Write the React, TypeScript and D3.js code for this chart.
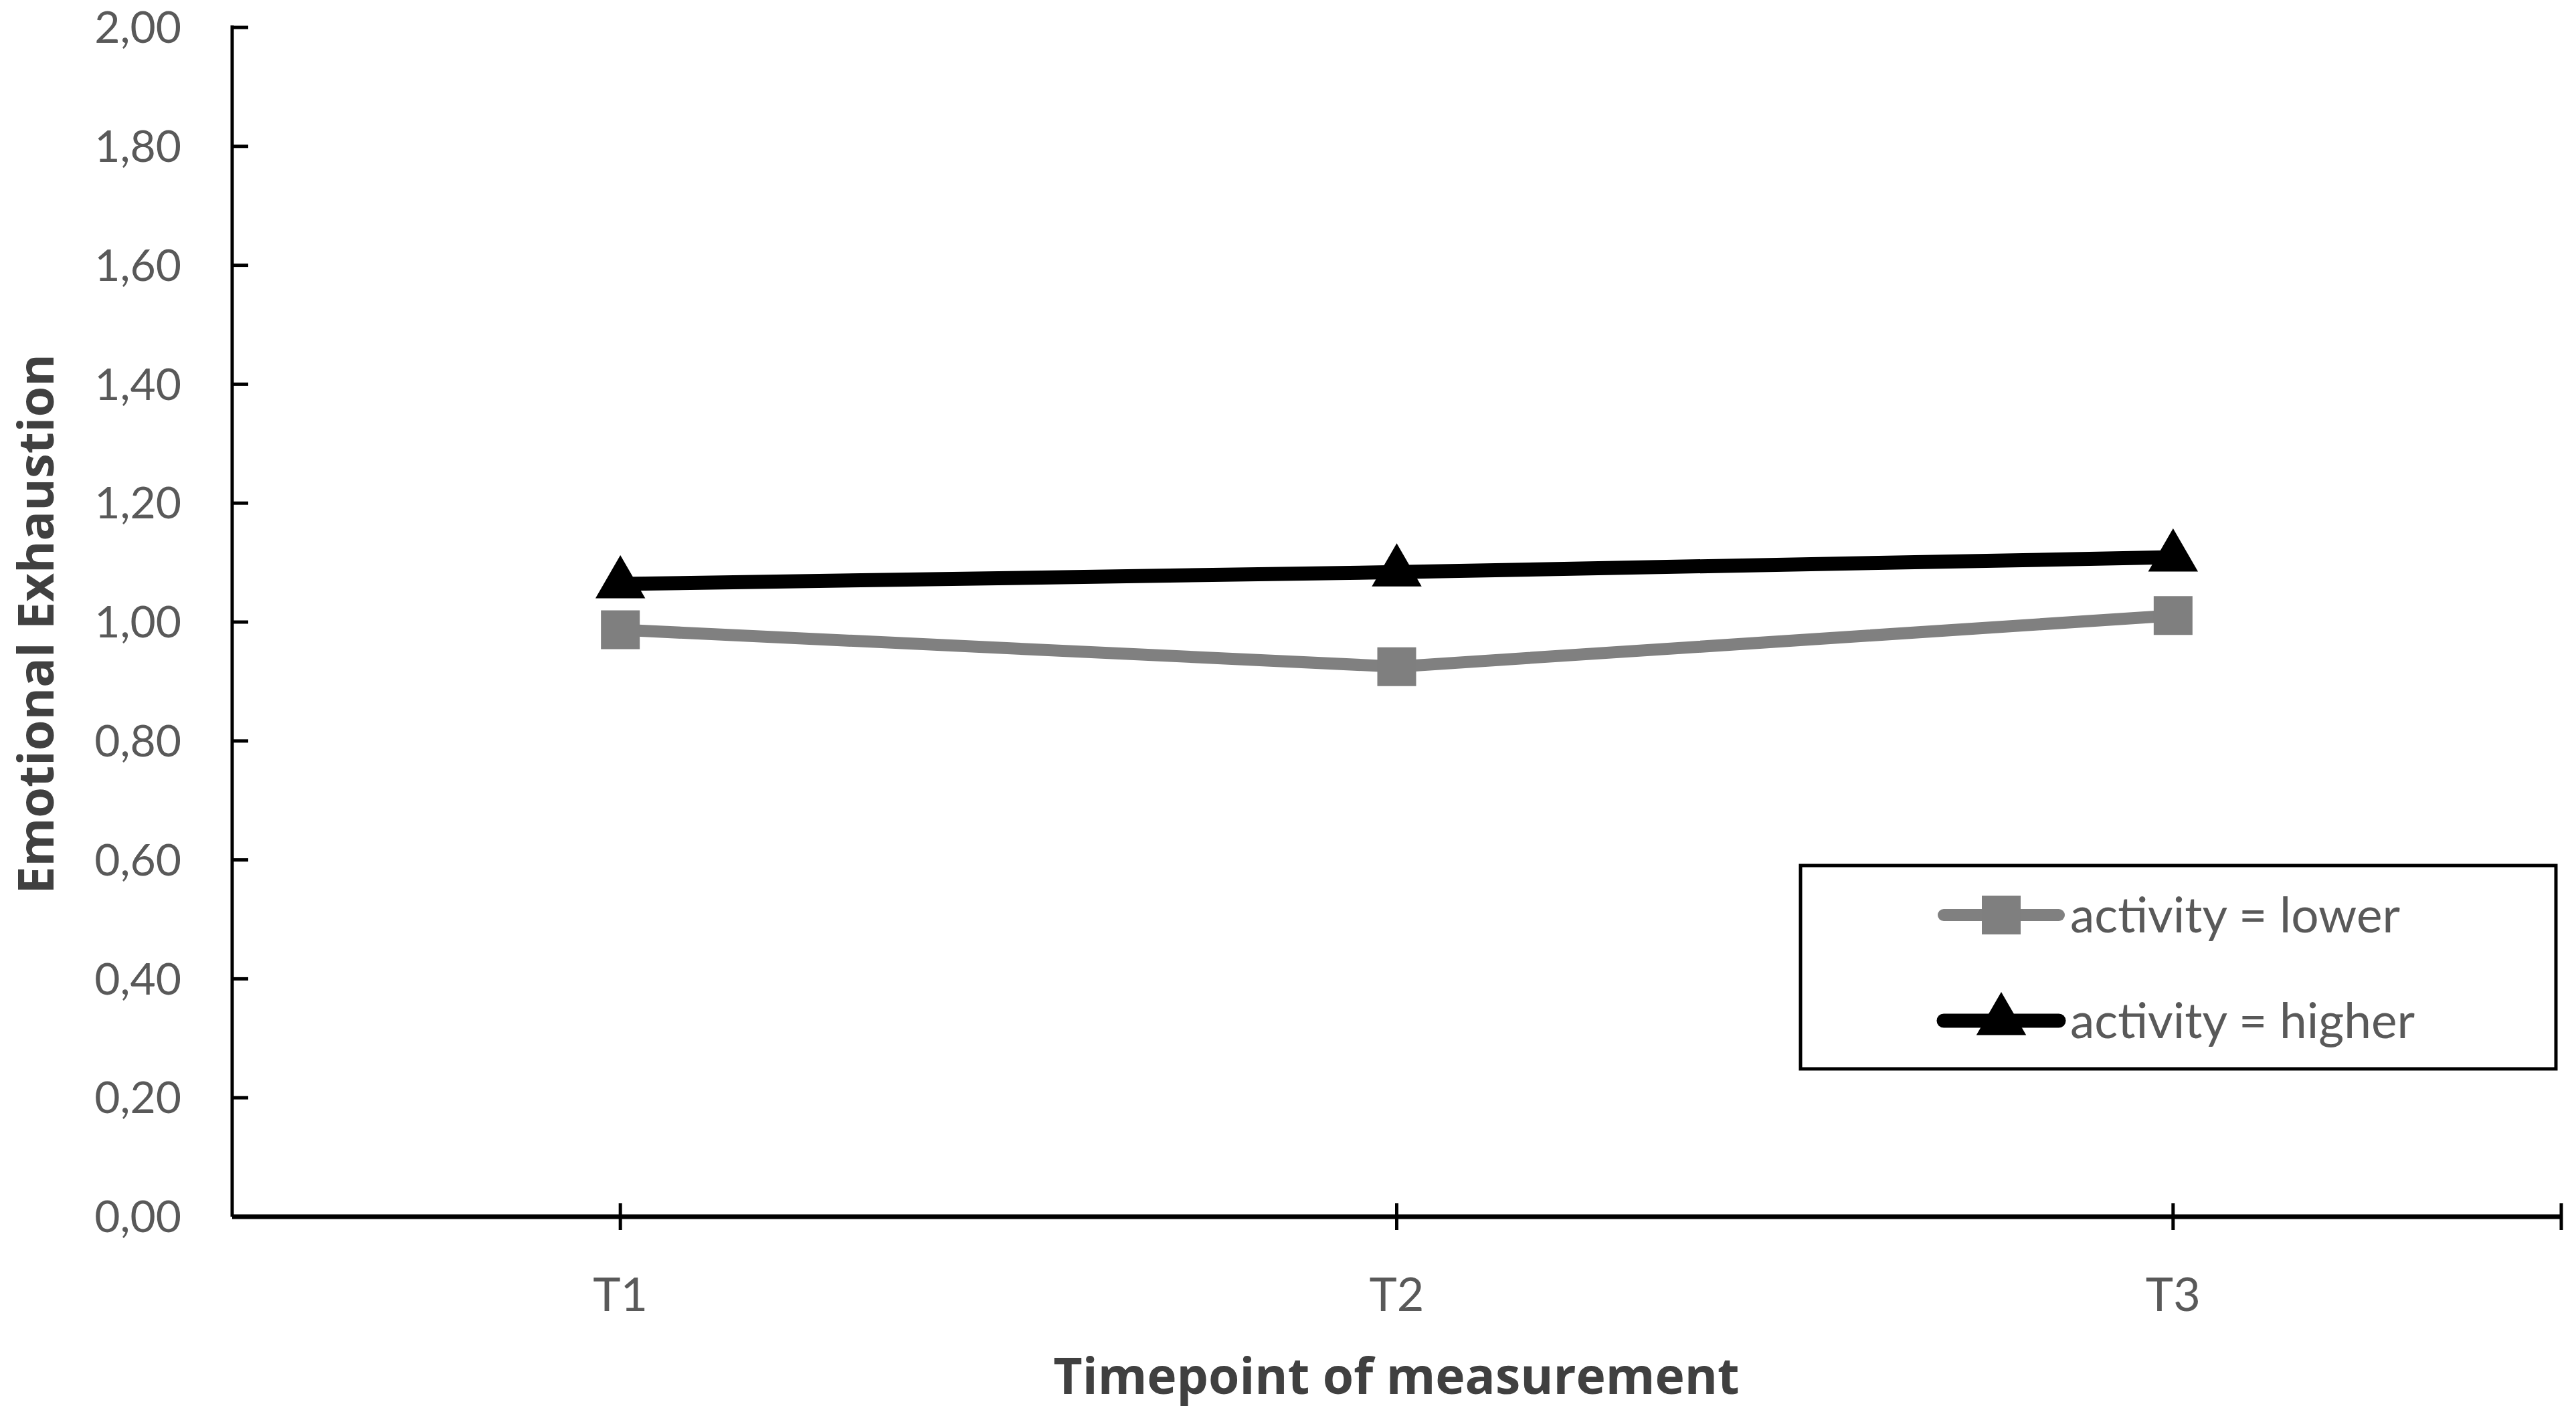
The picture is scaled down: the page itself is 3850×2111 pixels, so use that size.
import React from 'react';
import * as d3 from 'd3';

const categories = ['T1', 'T2', 'T3'];
const lowerValues = [0.987, 0.925, 1.011];
const higherValues = [1.064, 1.084, 1.109];
const yTickValues = [0, 0.2, 0.4, 0.6, 0.8, 1.0, 1.2, 1.4, 1.6, 1.8, 2.0];
const seriesNames = ['activity = lower', 'activity = higher'];

const W = 3850;
const H = 2111;
const left = 347;
const right = 3828;
const top = 41;
const bottom = 1819;

const labelFont = 'Lato, "Open Sans", sans-serif';
const titleFont = '"Open Sans", sans-serif';

const App: React.FC = () => {
  const x = d3.scalePoint<string>().domain(categories).range([left, right]).padding(0.5);
  const y = d3.scaleLinear().domain([0, 2]).range([bottom, top]);
  const fmt = (v: number) => d3.format('.2f')(v).replace('.', ',');

  const line = d3.line<number>()
    .x((_, i) => x(categories[i]) as number)
    .y(d => y(d));

  const square = d3.symbol().type(d3.symbolSquare).size(58 * 58)();
  const triangle = d3.symbol().type(d3.symbolTriangle).size(2400)();

  const series = [
    { name: seriesNames[0], values: lowerValues, color: '#808080', width: 18, marker: square, mcolor: '#7f7f7f' },
    { name: seriesNames[1], values: higherValues, color: '#000000', width: 21, marker: triangle, mcolor: '#000000' },
  ];

  // legend layout
  const lg = { x: 2691, y: 1294, w: 1129, h: 304 };
  const rowY = [1368, 1526];

  return (
    <svg width={W} height={H} style={{ position: 'absolute', left: 0, top: 0, background: '#fff' }}>
      <rect width={W} height={H} fill="#fff" />

      {/* y axis */}
      <line x1={left} x2={left} y1={top - 3} y2={bottom} stroke="#000" strokeWidth={5} />
      {yTickValues.map(t => (
        <g key={t}>
          <line x1={left} x2={left + 24} y1={y(t)} y2={y(t)} stroke="#000" strokeWidth={5} />
          <text x={271} y={y(t)} dy="0.35em" textAnchor="end" fontFamily={labelFont} fontSize={66} fill="#595959">
            {fmt(t)}
          </text>
        </g>
      ))}

      {/* x axis */}
      <line x1={left} x2={right} y1={bottom} y2={bottom} stroke="#000" strokeWidth={7} />
      {[...categories.map(c => x(c) as number), right].map((px, i) => (
        <line key={i} x1={px} x2={px} y1={bottom - 20} y2={bottom + 20} stroke="#000" strokeWidth={5} />
      ))}
      {categories.map(c => (
        <text key={c} x={x(c)} y={1960} textAnchor="middle" fontFamily={labelFont} fontSize={70} fill="#595959">
          {c}
        </text>
      ))}

      {/* titles */}
      <text x={2087} y={2084} textAnchor="middle" fontFamily={titleFont} fontWeight="bold" fontSize={75} fill="#404040">
        Timepoint of measurement
      </text>
      <text transform={`translate(80,933) rotate(-90)`} textAnchor="middle" fontFamily={titleFont} fontWeight="bold" fontSize={74} fill="#404040">
        Emotional Exhaustion
      </text>

      {/* series */}
      {series.map(s => (
        <g key={s.name}>
          <path d={line(s.values) || ''} fill="none" stroke={s.color} strokeWidth={s.width} strokeLinejoin="round" />
          {s.values.map((v, i) => (
            <path key={i} d={s.marker || ''} transform={`translate(${x(categories[i])},${y(v)})`} fill={s.mcolor} />
          ))}
        </g>
      ))}

      {/* legend */}
      <rect x={lg.x} y={lg.y} width={lg.w} height={lg.h} fill="#fff" stroke="#000" strokeWidth={5} />
      {series.map((s, i) => (
        <g key={s.name}>
          <line x1={2905} x2={3077} y1={rowY[i]} y2={rowY[i]} stroke={s.color} strokeWidth={s.width} strokeLinecap="round" />
          <path d={s.marker || ''} transform={`translate(2991,${rowY[i]})`} fill={s.mcolor} />
          <text x={3094} y={rowY[i]} dy="0.35em" fontFamily={labelFont} fontSize={73} fill="#595959">
            {s.name}
          </text>
        </g>
      ))}
    </svg>
  );
};

export default App;
